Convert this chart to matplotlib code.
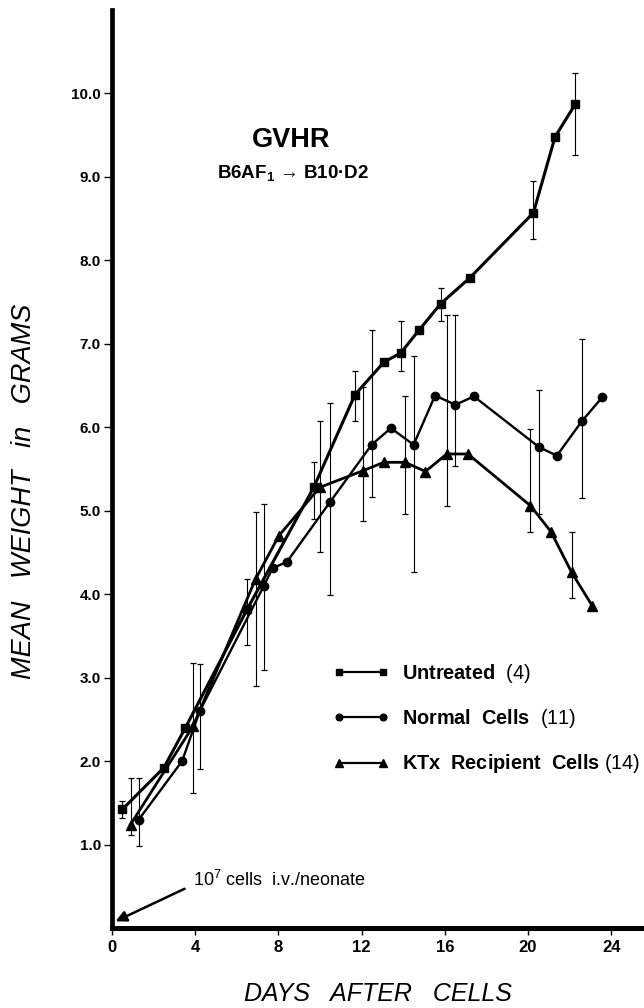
import numpy as np
import matplotlib
matplotlib.use('Agg')
import matplotlib.pyplot as plt

plt.rcParams['font.family'] = ['Liberation Sans', 'DejaVu Sans']
plt.rcParams['mathtext.fontset'] = 'custom'
plt.rcParams['mathtext.rm'] = 'Liberation Sans'
plt.rcParams['mathtext.bf'] = 'Liberation Sans:bold'
plt.rcParams['mathtext.it'] = 'Liberation Sans:italic'

# Untreated (4)
untreated_day = [0.49, 2.49, 3.53, 6.5, 9.7, 11.68, 13.07, 13.88, 14.78, 15.8, 17.2, 20.26, 21.3, 22.27]
untreated_w = [1.42, 1.92, 2.40, 3.82, 5.28, 6.39, 6.78, 6.89, 7.17, 7.48, 7.79, 8.57, 9.48, 9.87]
untreated_err_day = [0.49, 6.5, 9.7, 11.68, 13.88, 15.8, 20.26, 22.27]
untreated_err_lo = [1.32, 3.39, 4.90, 6.08, 6.67, 7.27, 8.26, 9.26]
untreated_err_hi = [1.52, 4.18, 5.58, 6.68, 7.27, 7.67, 8.95, 10.24]

# Normal Cells (11)
normal_day = [1.29, 3.37, 4.22, 7.3, 7.72, 8.42, 10.47, 12.48, 13.41, 14.5, 15.53, 16.51, 17.4, 20.54, 21.39, 22.58, 23.57]
normal_w = [1.30, 2.00, 2.60, 4.10, 4.31, 4.39, 5.10, 5.79, 5.99, 5.79, 6.38, 6.27, 6.37, 5.76, 5.66, 6.07, 6.36]
normal_err_day = [1.29, 4.22, 7.3, 10.47, 12.48, 14.5, 16.51, 20.54, 22.58]
normal_err_lo = [0.98, 1.90, 3.09, 3.99, 5.17, 4.27, 5.54, 4.96, 5.15]
normal_err_hi = [1.80, 3.16, 5.08, 6.29, 7.17, 6.86, 7.35, 6.45, 7.06]

# KTx Recipient Cells (14)
ktx_day = [0.89, 3.9, 6.9, 8.02, 9.99, 12.07, 13.07, 14.09, 15.07, 16.09, 17.11, 20.12, 21.1, 22.1, 23.09]
ktx_w = [1.24, 2.42, 4.18, 4.70, 5.28, 5.48, 5.58, 5.58, 5.47, 5.68, 5.68, 5.06, 4.75, 4.26, 3.86]
ktx_err_day = [0.89, 3.9, 6.9, 9.99, 12.07, 14.09, 16.09, 20.12, 22.1]
ktx_err_lo = [1.12, 1.62, 2.90, 4.50, 4.88, 4.96, 5.06, 4.74, 3.96]
ktx_err_hi = [1.80, 3.18, 4.99, 6.08, 6.48, 6.37, 7.34, 5.98, 4.75]

x_ticks = [0, 4, 8, 12, 16, 20, 24]
y_ticks = [1, 2, 3, 4, 5, 6, 7, 8, 9, 10]

fig = plt.figure(figsize=(6.44, 10.08), dpi=100)
ax = fig.add_axes([112 / 644, 80 / 1008, 532 / 644, 918 / 1008])

# error bars (drawn from lower to upper end)
for d, lo, hi in [(untreated_err_day, untreated_err_lo, untreated_err_hi),
                  (normal_err_day, normal_err_lo, normal_err_hi),
                  (ktx_err_day, ktx_err_lo, ktx_err_hi)]:
    lo = np.array(lo)
    hi = np.array(hi)
    ax.errorbar(d, lo, yerr=[np.zeros_like(lo), hi - lo], fmt='none',
                ecolor='black', elinewidth=0.8, capsize=2.2, capthick=0.9, zorder=2)

ax.plot(untreated_day, untreated_w, color='black', lw=2.2, marker='s', ms=6,
        label='Untreated  $\\mathrm{(4)}$', zorder=3)
ax.plot(normal_day, normal_w, color='black', lw=1.7, marker='o', ms=6,
        label='Normal  Cells  $\\mathrm{(11)}$', zorder=3)
ax.plot(ktx_day, ktx_w, color='black', lw=2.0, marker='^', ms=6.5,
        label='KTx  Recipient  Cells $\\mathrm{(14)}$', zorder=3)

ax.set_xlim(0, 532 / 20.8)
ax.set_ylim(0, 11)
ax.spines['top'].set_visible(False)
ax.spines['right'].set_visible(False)
ax.spines['left'].set_linewidth(3.4)
ax.spines['bottom'].set_linewidth(3.6)

ax.set_xticks(x_ticks)
ax.set_xticklabels([str(t) for t in x_ticks], fontweight='bold', fontsize=12)
ax.set_yticks(y_ticks)
ax.set_yticklabels(['%.1f' % t for t in y_ticks], fontweight='bold', fontsize=11)
ax.tick_params(axis='x', direction='out', length=5, width=1, pad=4)
ax.tick_params(axis='y', direction='out', length=6, width=1, pad=2)

leg = ax.legend(loc='upper left', bbox_to_anchor=(333 / 644, 1 - 662 / 1008),
                bbox_transform=fig.transFigure, frameon=False, numpoints=2,
                handlelength=2.8, handletextpad=0.65, labelspacing=1.12,
                borderpad=0, borderaxespad=0, markerscale=0.8,
                prop={'weight': 'bold', 'size': 14.3})
for h in leg.legend_handles:
    h.set_linewidth(1.6)

fig.text(291 / 644, 1 - 140 / 1008, 'GVHR', fontsize=19.5, fontweight='bold',
         ha='center', va='center')
fig.text(293 / 644, 1 - 173 / 1008, 'B6AF$_\\mathbf{1}$ \u2192 B10\u00b7D2', fontsize=13.5,
         fontweight='bold', ha='center', va='center')

# injection note with arrow to the origin
ax.text(3.88, 0.58, '10$^{\\mathrm{7}}$ cells  i.v./neonate', fontsize=13,
        ha='left', va='center')
ax.annotate('', xy=(0.17, 0.08), xytext=(3.49, 0.47),
            arrowprops=dict(arrowstyle='-|>', color='black', lw=1.8,
                            shrinkA=0, shrinkB=0, mutation_scale=16))

fig.text(378 / 644, 1 - 994 / 1008, 'DAYS   AFTER   CELLS', fontsize=18, fontstyle='italic',
         ha='center', va='center')
fig.text(24 / 644, 1 - 491 / 1008, 'MEAN   WEIGHT   in   GRAMS', fontsize=19.5, fontstyle='italic',
         rotation=90, ha='center', va='center')

fig.savefig('out.png', dpi=100)
